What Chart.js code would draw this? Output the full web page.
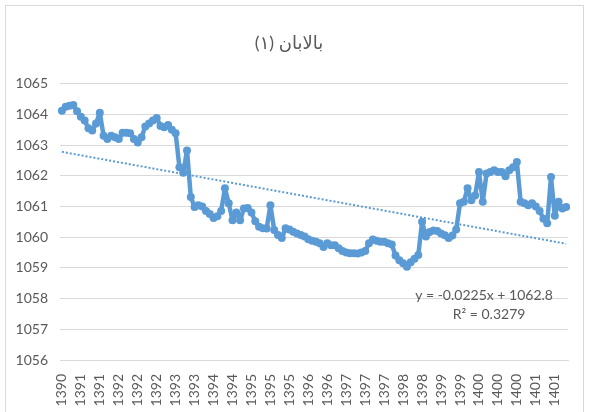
<!DOCTYPE html>
<html>
<head>
<meta charset="utf-8">
<script src="https://cdn.jsdelivr.net/npm/chart.js@4"></script>
<style>
  html, body { margin: 0; padding: 0; background: #fff; overflow: hidden; }
  #wrap { position: relative; width: 589px; height: 412px; }
  #frame { position: absolute; left: 5px; top: 5px; width: 577px; height: 420px; border: 1px solid #d9d9d9; pointer-events: none; }
</style>
</head>
<body>
<div id="wrap">
  <canvas id="chart" width="589" height="412"></canvas>
  <div id="frame"></div>
</div>
<script>
// title and year tick labels (one label every 5 readings)
const chartTitle = "بالابان (۱)";
const tickLabels = ["1390", "1391", "1391", "1392", "1392", "1392", "1393", "1393", "1394",
  "1394", "1395", "1395", "1395", "1396", "1396", "1397", "1397", "1397", "1398", "1398",
  "1399", "1399", "1400", "1400", "1400", "1401", "1401"];

// water level readings
const levels = [
  1064.12, 1064.25, 1064.28, 1064.30, 1064.10, 1063.92, 1063.80, 1063.55, 1063.47, 1063.70,
  1064.05, 1063.30, 1063.20, 1063.30, 1063.25, 1063.20, 1063.40, 1063.40, 1063.38, 1063.20,
  1063.08, 1063.25, 1063.60, 1063.70, 1063.80, 1063.88, 1063.62, 1063.58, 1063.65, 1063.50,
  1063.38, 1062.28, 1062.10, 1062.82, 1061.31, 1060.98, 1061.04, 1061.00, 1060.85, 1060.75,
  1060.62, 1060.68, 1060.85, 1061.59, 1061.10, 1060.55, 1060.80, 1060.55, 1060.93, 1060.95,
  1060.80, 1060.52, 1060.34, 1060.29, 1060.28, 1061.04, 1060.23, 1060.07, 1059.97, 1060.29,
  1060.25, 1060.18, 1060.12, 1060.07, 1060.02, 1059.93, 1059.88, 1059.85, 1059.80, 1059.68,
  1059.80, 1059.74, 1059.74, 1059.64, 1059.55, 1059.50, 1059.48, 1059.48, 1059.47, 1059.50,
  1059.55, 1059.80, 1059.92, 1059.88, 1059.85, 1059.85, 1059.80, 1059.76, 1059.40, 1059.25,
  1059.15, 1059.04, 1059.18, 1059.30, 1059.42, 1060.50, 1060.02, 1060.17, 1060.22, 1060.20,
  1060.12, 1060.06, 1059.97, 1060.05, 1060.25, 1061.10, 1061.15, 1061.59, 1061.20, 1061.36,
  1062.12, 1061.15, 1062.07, 1062.12, 1062.18, 1062.12, 1062.12, 1061.98, 1062.18, 1062.28,
  1062.45, 1061.15, 1061.10, 1061.04, 1061.10, 1061.00, 1060.85, 1060.60, 1060.45, 1061.96,
  1060.70, 1061.15, 1060.93, 1060.98
];

// linear trendline as printed on the chart
const trendSlope = -0.0225;
const trendIntercept = 1062.8;
const trendR2 = 0.3279;

const labels = levels.map((_, i) => (i % 5 === 0 ? tickLabels[i / 5] : ""));
const trend = levels.map((_, i) => trendIntercept + trendSlope * (i + 1));

const blue = "#5b9bd5";
const grey = "#595959";
const font = "Lato, 'DejaVu Sans', sans-serif";

// equation text under the trendline
const equationLabel = {
  id: "equationLabel",
  afterDatasetsDraw(chart) {
    const { ctx, chartArea, scales } = chart;
    const x = chartArea.right - 84;
    const y = scales.y.getPixelForValue(1058.1);
    ctx.save();
    ctx.fillStyle = grey;
    ctx.font = "14px " + font;
    ctx.textAlign = "center";
    ctx.textBaseline = "middle";
    const sign = trendIntercept >= 0 ? " + " : " - ";
    ctx.fillText("y = " + trendSlope + "x" + sign + trendIntercept.toFixed(1), x, y);
    ctx.fillText("R² = " + trendR2, x + 5, y + 19);
    ctx.restore();
  }
};

new Chart(document.getElementById("chart"), {
  type: "line",
  data: {
    labels: labels,
    datasets: [
      {
        data: levels,
        borderColor: blue,
        backgroundColor: blue,
        borderWidth: 4.5,
        borderJoinStyle: "round",
        borderCapStyle: "round",
        pointRadius: 4,
        pointBorderWidth: 0,
        tension: 0,
        order: 1
      },
      {
        data: trend,
        borderColor: blue,
        borderWidth: 2,
        borderDash: [2, 2],
        pointRadius: 0,
        tension: 0,
        order: 2
      }
    ]
  },
  options: {
    responsive: false,
    animation: false,
    layout: { padding: { left: 0, right: 11, top: 0, bottom: 0 } },
    plugins: {
      legend: { display: false },
      tooltip: { enabled: false },
      title: {
        display: true,
        text: "\u202B" + chartTitle + "\u202C",
        color: grey,
        font: { family: font, size: 18, weight: "normal" },
        padding: { top: 32, bottom: 30 }
      }
    },
    scales: {
      x: {
        offset: true,
        grid: { display: false },
        border: { color: "#d9d9d9" },
        ticks: {
          autoSkip: false,
          minRotation: 90,
          maxRotation: 90,
          padding: 6,
          color: grey,
          font: { family: font, size: 14 }
        },
        afterFit(scale) { scale.height = 52; }
      },
      y: {
        min: 1056,
        max: 1065,
        grid: { color: "#d9d9d9", drawTicks: false },
        border: { display: false },
        ticks: {
          stepSize: 1,
          padding: 12,
          color: grey,
          font: { family: font, size: 14 },
          callback: (v) => String(v)
        },
        afterFit(scale) { scale.width = 60; }
      }
    }
  },
  plugins: [equationLabel]
});
</script>
</body>
</html>
